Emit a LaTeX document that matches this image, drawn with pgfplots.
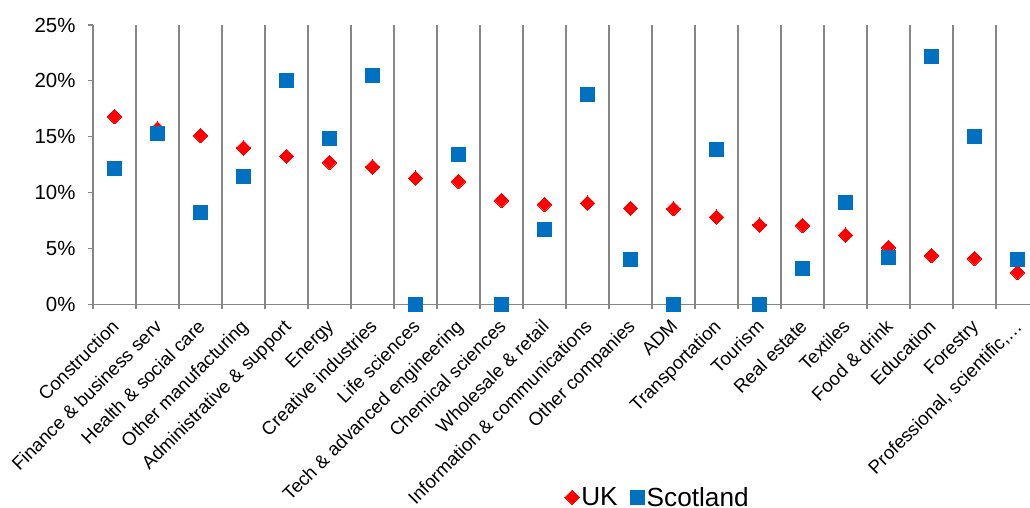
\documentclass[border=0pt]{standalone}
\usepackage{pgfplots}
\pgfplotsset{compat=1.18}
\usepackage{fontspec}
\setmainfont{Liberation Sans}
\definecolor{ukred}{HTML}{FF0000}
\definecolor{scoblue}{HTML}{0070C0}
\definecolor{gridgray}{HTML}{868686}

\pgfplotstableread{
x uk sco
0 16.8 12.2
1 15.7 15.25
2 15.1 8.25
3 14.0 11.4
4 13.25 20.0
5 12.7 14.8
6 12.3 20.45
7 11.3 0
8 11.0 13.4
9 9.3 0
10 8.95 6.7
11 9.05 18.75
12 8.6 4.0
13 8.55 0
14 7.8 13.9
15 7.1 0
16 7.05 3.2
17 6.2 9.1
18 5.1 4.2
19 4.35 22.15
20 4.1 15.0
21 2.85 4.05
}\datatable

\begin{document}
\begin{tikzpicture}
\begin{axis}[
 scale only axis, width=946bp, height=279.3bp,
 xmin=-0.5, xmax=21.5, ymin=0, ymax=25,
 axis x line=bottom, axis y line=left,
 axis line style={gridgray, line width=1.2bp, -},
 tick align=outside,
 xtick={0,...,21},
 xticklabels={Construction, Finance \& business serv, Health \& social care, Other manufacturing, Administrative \& support, Energy, Creative industries, Life sciences, Tech \& advanced engineering, Chemical sciences, Wholesale \& retail, Information \& communications, Other companies, ADM, Transportation, Tourism, Real estate, Textiles, Food \& drink, Education, Forestry, {Professional, scientific,…}},
 major x tick style={draw=none},
 minor xtick={-0.5,0.5,...,21.5},
 xminorgrids,
 minor grid style={gridgray, line width=1.2bp},
 minor x tick style={gridgray, line width=1.2bp},
 minor tick length=5bp,
 major tick length=5bp,
 ytick={0,5,10,15,20,25},
 yticklabels={0\%,5\%,10\%,15\%,20\%,25\%},
 y tick style={gridgray, line width=1.2bp},
 yticklabel style={font=\fontsize{20.5}{24}\selectfont, xshift=-9bp},
 xticklabel style={font=\fontsize{18.7}{22}\selectfont, xshift=-4bp, yshift=-6bp, rotate=45, anchor=north east, inner sep=2bp},
 legend style={at={(rel axis cs:0.597,-0.691)}, anchor=center, draw=none, legend columns=2,
   font=\fontsize{26.3}{30}\selectfont, inner sep=0pt,
   /tikz/every even column/.append style={column sep=11bp}},
 legend image post style={xshift=-4bp},
 legend cell align=left,
 clip=false,
]
\addplot[only marks, mark=square*, mark size=5.1bp, mark options={rotate=45, fill=ukred, draw=ukred, line width=0pt}] table[x=x, y=uk] {\datatable};
\addlegendentry{UK}
\addplot[only marks, mark=square*, mark size=7bp, mark options={fill=scoblue, draw=scoblue, line width=0pt}] table[x=x, y=sco] {\datatable};
\addlegendentry{Scotland}
\coordinate (O) at (rel axis cs:0,0);
\end{axis}
\pgfresetboundingbox
\path[use as bounding box] (O) ++(-93bp,-203.7bp) rectangle ++(1030bp,508bp);
\end{tikzpicture}
\end{document}
